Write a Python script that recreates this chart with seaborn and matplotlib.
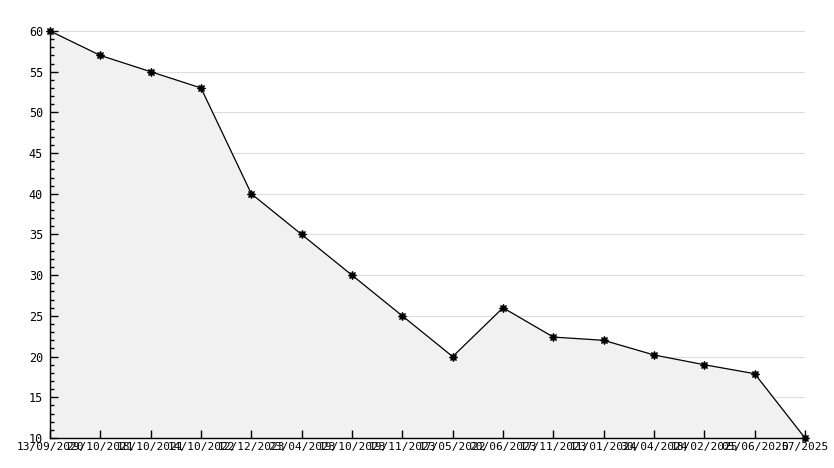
import matplotlib
matplotlib.use("Agg")
import matplotlib.pyplot as plt
import numpy as np
import pandas as pd
import seaborn as sns
from matplotlib.ticker import MultipleLocator

# ── data ───────────────────────────────────────────────────────────────────
dates = ["13/09/2020", "29/10/2021", "18/10/2021", "14/10/2022",
         "12/12/2023", "23/04/2023", "19/10/2023", "19/11/2023",
         "17/05/2022", "20/06/2023", "17/11/2023", "11/01/2024",
         "30/04/2024", "18/02/2025", "05/06/2025", "07/2025"]
values = [60, 57, 55, 53, 40, 35, 30, 25, 20, 26, 22.4, 22, 20.2, 19, 17.9, 10]

df = pd.DataFrame({"pos": np.arange(len(dates)), "value": values})

sns.set_style("ticks", {"xtick.direction": "in", "ytick.direction": "in",
                        "xtick.bottom": True, "ytick.left": True})
plt.rcParams["font.family"] = ["DejaVu Sans Mono", "DejaVu Sans"]

fig = plt.figure(figsize=(8.34, 4.68), dpi=100)
ax = fig.add_axes([50 / 834, 30 / 468, 755 / 834, 407 / 468])

ax.set_xlim(0, len(dates) - 1)
ax.set_ylim(10, 60)

# grid lines sit under the filled area, axis ticks above it
for yv in range(15, 61, 5):
    ax.axhline(yv, color="#dcdcdc", lw=0.8, zorder=0.1)
ax.fill_between(df["pos"], df["value"], 10, color="#f1f1f1", zorder=0.2)
sns.lineplot(data=df, x="pos", y="value", ax=ax, color="black", lw=0.9,
             marker=(8, 1, 0), markersize=6, markeredgecolor="black",
             markerfacecolor="black", zorder=3, clip_on=False)

ax.set_xticks(df["pos"])
ax.set_xticklabels(dates)
ax.yaxis.set_major_locator(MultipleLocator(5))
ax.yaxis.set_minor_locator(MultipleLocator(1))
ax.grid(False)

for s in ["top", "right"]:
    ax.spines[s].set_visible(False)
for s in ["left", "bottom"]:
    ax.spines[s].set_color("black")
    ax.spines[s].set_linewidth(1.0)

ax.tick_params(axis="x", which="major", direction="in", length=6, width=1,
               labelsize=8, pad=3, color="black", labelcolor="black",
               bottom=True)
ax.tick_params(axis="y", which="major", direction="in", length=6, width=1,
               labelsize=8.5, pad=5, color="black", labelcolor="black",
               left=True)
ax.tick_params(axis="y", which="minor", direction="in", length=3, width=1,
               color="black", left=True)
ax.set_xlabel("")
ax.set_ylabel("")

fig.savefig("out.png", dpi=100)
